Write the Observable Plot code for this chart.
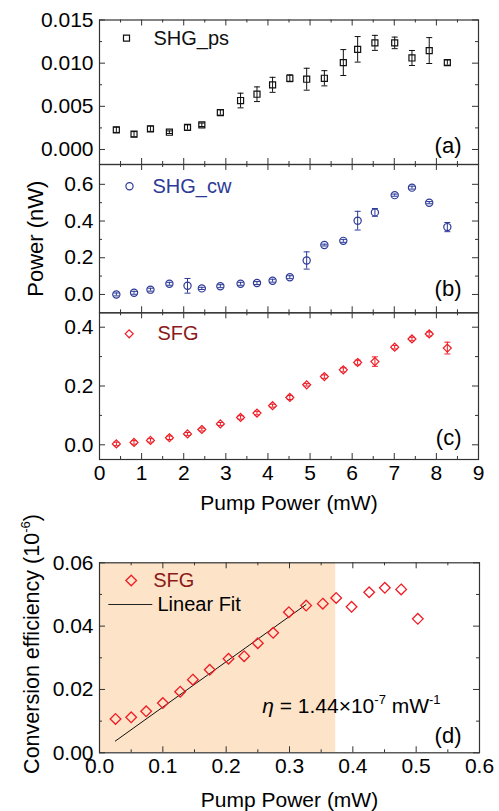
<!DOCTYPE html>
<html><head><meta charset="utf-8">
<script src="https://cdn.jsdelivr.net/npm/d3@7"></script>
<script src="https://cdn.jsdelivr.net/npm/@observablehq/plot@0.6"></script>
<style>
body{margin:0;background:#fff;}
#wrap{position:relative;width:499px;height:811px;overflow:hidden;}
#wrap svg{position:absolute;left:0;}
</style></head><body><div id="wrap"></div>
<script>
// ---- data ----
const pump = [0.40, 0.82, 1.21, 1.66, 2.09, 2.43, 2.87, 3.35, 3.74, 4.11, 4.52, 4.92, 5.34, 5.79, 6.13, 6.54, 7.01, 7.42, 7.83, 8.26];
const shgPs = [0.00228, 0.00177, 0.00240, 0.00200, 0.00255, 0.00286, 0.00428, 0.00567, 0.00640, 0.00749, 0.00825, 0.00814, 0.00825, 0.01007, 0.01160, 0.01235, 0.01235, 0.01060, 0.01146, 0.01007];
const shgPsErr = [0.0003, 0.0003, 0.0003, 0.00015, 0.0003, 0.0002, 0.0003, 0.00085, 0.00085, 0.00087, 0.0004, 0.00127, 0.00088, 0.0015, 0.00148, 0.00087, 0.00067, 0.00087, 0.0015, 0.0003];
const shgCw = [0.000, 0.009, 0.026, 0.058, 0.047, 0.033, 0.045, 0.058, 0.062, 0.075, 0.094, 0.185, 0.269, 0.292, 0.402, 0.447, 0.541, 0.582, 0.500, 0.367];
const shgCwErr = [0.008, 0.008, 0.008, 0.008, 0.040, 0.006, 0.008, 0.008, 0.008, 0.008, 0.008, 0.047, 0.005, 0.008, 0.051, 0.021, 0.006, 0.008, 0.006, 0.025];
const sfg = [0.003, 0.008, 0.015, 0.024, 0.037, 0.052, 0.071, 0.093, 0.108, 0.133, 0.161, 0.204, 0.232, 0.255, 0.280, 0.283, 0.332, 0.360, 0.377, 0.329];
const sfgErr = [0.006, 0.006, 0.006, 0.006, 0.005, 0.005, 0.005, 0.006, 0.006, 0.005, 0.007, 0.004, 0.006, 0.007, 0.008, 0.016, 0.006, 0.006, 0.007, 0.020];

const effPump = [0.0253, 0.050, 0.0737, 0.100, 0.1274, 0.1474, 0.174, 0.2037, 0.2284, 0.250, 0.2742, 0.299, 0.3263, 0.3526, 0.3737, 0.398, 0.4258, 0.4505, 0.4763, 0.5026];
const effVal = [0.0107, 0.0112, 0.0131, 0.0157, 0.0193, 0.0231, 0.0262, 0.0297, 0.0305, 0.0346, 0.0379, 0.0444, 0.0465, 0.0471, 0.0489, 0.0461, 0.0507, 0.0521, 0.0516, 0.0423];
const fitPump = [0.025, 0.326];
const fitVal = [0.0037, 0.0468];
const shadeRange = [0, 0.373];

const xTicksTop = [0,1,2,3,4,5,6,7,8,9];
const xMinorTop = [0.5,1.5,2.5,3.5,4.5,5.5,6.5,7.5,8.5];
const yTicksA = [0, 0.005, 0.010, 0.015], yMinorA = [0.0025, 0.0075, 0.0125];
const yTicksB = [0, 0.2, 0.4, 0.6], yMinorB = [0.1, 0.3, 0.5];
const yTicksC = [0, 0.2, 0.4], yMinorC = [0.1, 0.3];
const xTicksD = [0, 0.1, 0.2, 0.3, 0.4, 0.5, 0.6], xMinorD = [0.05, 0.15, 0.25, 0.35, 0.45, 0.55];
const yTicksD = [0, 0.02, 0.04, 0.06], yMinorD = [0.01, 0.03, 0.05];

// ---- styles ----
const FONT = '"Liberation Sans", Arial, Helvetica, sans-serif';
const AX = "#333";
const BLUE = "#2d3a97", RED = "#ee1c25", DARKRED = "#8b1a1a", SHADE = "#fde3c8";

const rows = (ys, es) => pump.map((x, i) => ({x, y: ys[i], e: es[i]}));
const capSym = {draw(ctx, size){ const r = Math.sqrt(size/Math.PI); ctx.moveTo(-r,0); ctx.lineTo(r,0); }};

function frameTicks(xMaj, xMin, yMaj, yMin, iw, ih) {
  const m = [];
  for (const [v, len] of [[xMaj, 6], [xMin, 3]]) {
    m.push(Plot.tickX(v, {x: d => d, insetTop: ih - len, stroke: AX}));
    m.push(Plot.tickX(v, {x: d => d, insetBottom: ih - len, stroke: AX}));
  }
  for (const [v, len] of [[yMaj, 6], [yMin, 3]]) {
    m.push(Plot.tickY(v, {y: d => d, insetRight: iw - len, stroke: AX}));
    m.push(Plot.tickY(v, {y: d => d, insetLeft: iw - len, stroke: AX}));
  }
  return m;
}
function errMarks(data, color, sym, r) {
  return [
    Plot.ruleX(data, {x: "x", y1: d => d.y - d.e, y2: d => d.y + d.e, stroke: color, strokeWidth: 1}),
    Plot.dot(data, {x: "x", y: d => d.y + d.e, symbol: capSym, r: 3, stroke: color, strokeWidth: 1}),
    Plot.dot(data, {x: "x", y: d => d.y - d.e, symbol: capSym, r: 3, stroke: color, strokeWidth: 1}),
    Plot.dot(data, {x: "x", y: "y", symbol: sym, r, stroke: color, fill: "none", strokeWidth: 1.2})
  ];
}

function place(svg, top) { svg.style.top = top + "px"; document.getElementById("wrap").appendChild(svg); return svg; }

function richText(svg, key, parts, fs) {
  d3.select(svg).selectAll("text").filter(function(){ return this.textContent === key; }).each(function(){
    const t = d3.select(this); t.text(null);
    let shift = 0;
    for (const p of parts) {
      const ts = t.append("tspan").text(p.t);
      const target = p.sup ? -0.42*fs : 0;
      if (target !== shift) { ts.attr("dy", target - shift); shift = target; }
      if (p.sup) ts.attr("font-size", Math.round(fs*0.62));
      if (p.it) ts.attr("font-style", "italic");
    }
  });
}

const W = 499, ML = 99, MR = 21;
const iwTop = W - ML - MR;
const baseStyle = {fontFamily: FONT, fontSize: "21px", color: "#000", background: "transparent", overflow: "visible"};

// ---- panel (a) ----
{
  const H = 165, mt = 19.5, mb = 1, ih = H - mt - mb;
  const d = rows(shgPs, shgPsErr);
  const svg = Plot.plot({
    width: W, height: H, marginLeft: ML, marginRight: MR, marginTop: mt, marginBottom: mb,
    x: {domain: [0, 9], axis: null}, y: {domain: [-0.00174, 0.015], axis: null},
    style: baseStyle,
    marks: [
      ...errMarks(d, "#111", "square", 3.4),
      Plot.frame({stroke: AX, strokeWidth: 1.2}),
      ...frameTicks(xTicksTop, xMinorTop, yTicksA, yMinorA, iwTop, ih),
      Plot.axisY({ticks: yTicksA, tickFormat: v => v.toFixed(3), tickSize: 0, tickPadding: 6, label: null}),
      Plot.dot([0], {frameAnchor: "top-left", dx: 27, dy: 18.2, symbol: "square", r: 3.4, stroke: "#111", strokeWidth: 1.2}),
      Plot.text(["SHG_ps"], {frameAnchor: "top-left", dx: 54, dy: 18.2, textAnchor: "start", lineAnchor: "middle", fontSize: 20, fill: "#111"}),
      Plot.text(["(a)"], {frameAnchor: "bottom-right", dx: -17, dy: -19, textAnchor: "end", lineAnchor: "middle", fontSize: 22})
    ]
  });
  place(svg, 0);
}
// ---- panel (b) ----
{
  const H = 151, mt = 1, mb = 1.7, ih = H - mt - mb;
  const d = rows(shgCw, shgCwErr);
  const svg = Plot.plot({
    width: W, height: H, marginLeft: ML, marginRight: MR, marginTop: mt, marginBottom: mb,
    x: {domain: [0, 9], axis: null}, y: {domain: [-0.1, 0.708], axis: null},
    style: baseStyle,
    marks: [
      ...errMarks(d, BLUE, "circle", 3.6),
      Plot.frame({stroke: AX, strokeWidth: 1.2}),
      ...frameTicks(xTicksTop, xMinorTop, yTicksB, yMinorB, iwTop, ih),
      Plot.axisY({ticks: yTicksB, tickFormat: v => v.toFixed(1), tickSize: 0, tickPadding: 6, label: null}),
      Plot.dot([0], {frameAnchor: "top-left", dx: 30, dy: 21.7, symbol: "circle", r: 3.6, stroke: BLUE, strokeWidth: 1.2}),
      Plot.text(["SHG_cw"], {frameAnchor: "top-left", dx: 53, dy: 21.7, textAnchor: "start", lineAnchor: "middle", fontSize: 20, fill: BLUE}),
      Plot.text(["(b)"], {frameAnchor: "bottom-right", dx: -17, dy: -24, textAnchor: "end", lineAnchor: "middle", fontSize: 22}),
      Plot.text(["Power (nW)"], {frameAnchor: "left", dx: -64, rotate: -90, textAnchor: "middle", lineAnchor: "middle", fontSize: 22})
    ]
  });
  place(svg, 163);
}
// ---- panel (c) ----
{
  const H = 200, mt = 1.3, mb = 52, ih = H - mt - mb;
  const d = rows(sfg, sfgErr);
  const svg = Plot.plot({
    width: W, height: H, marginLeft: ML, marginRight: MR, marginTop: mt, marginBottom: mb,
    x: {domain: [0, 9]}, y: {domain: [-0.05, 0.449]},
    style: baseStyle,
    marks: [
      ...errMarks(d, RED, "diamond2", 3.6),
      Plot.frame({stroke: AX, strokeWidth: 1.2}),
      ...frameTicks(xTicksTop, xMinorTop, yTicksC, yMinorC, iwTop, ih),
      Plot.axisY({ticks: yTicksC, tickFormat: v => v.toFixed(1), tickSize: 0, tickPadding: 6, label: null}),
      Plot.axisX({ticks: xTicksTop, tickFormat: v => String(v), tickSize: 0, tickPadding: 6, label: null}),
      Plot.dot([0], {frameAnchor: "top-left", dx: 29.7, dy: 21, symbol: "diamond2", r: 3.6, stroke: RED, strokeWidth: 1.2}),
      Plot.text(["SFG"], {frameAnchor: "top-left", dx: 58, dy: 21, textAnchor: "start", lineAnchor: "middle", fontSize: 20, fill: DARKRED}),
      Plot.text(["(c)"], {frameAnchor: "bottom-right", dx: -17, dy: -22, textAnchor: "end", lineAnchor: "middle", fontSize: 22}),
      Plot.text(["Pump Power (mW)"], {frameAnchor: "bottom", dy: 44, textAnchor: "middle", lineAnchor: "middle", fontSize: 21})
    ]
  });
  place(svg, 311);
}
// ---- panel (d) ----
{
  const H = 331, mt = 82.3, mb = 58.7, mr = 20, ih = H - mt - mb, iw = W - ML - mr;
  const d = effPump.map((x, i) => ({x, y: effVal[i]}));
  const fit = fitPump.map((x, i) => ({x, y: fitVal[i]}));
  const svg = Plot.plot({
    width: W, height: H, marginLeft: ML, marginRight: mr, marginTop: mt, marginBottom: mb,
    x: {domain: [0, 0.6]}, y: {domain: [0, 0.06]},
    style: baseStyle,
    marks: [
      Plot.rect([{x1: shadeRange[0], x2: shadeRange[1], y1: 0, y2: 0.06}], {x1: "x1", x2: "x2", y1: "y1", y2: "y2", fill: SHADE}),
      Plot.line(fit, {x: "x", y: "y", stroke: "#111", strokeWidth: 1}),
      Plot.dot(d, {x: "x", y: "y", symbol: "diamond2", r: 4.8, stroke: RED, fill: "none", strokeWidth: 1.3}),
      Plot.frame({stroke: AX, strokeWidth: 1.2}),
      ...frameTicks(xTicksD, xMinorD, yTicksD, yMinorD, iw, ih),
      Plot.axisY({ticks: yTicksD, tickFormat: v => v.toFixed(2), tickSize: 0, tickPadding: 6, label: null}),
      Plot.axisX({ticks: xTicksD, tickFormat: v => v.toFixed(1), tickSize: 0, tickPadding: 5, label: null}),
      Plot.dot([0], {frameAnchor: "top-left", dx: 31.7, dy: 17.7, symbol: "diamond2", r: 4.8, stroke: RED, strokeWidth: 1.3}),
      Plot.text(["SFG"], {frameAnchor: "top-left", dx: 53.7, dy: 17.7, textAnchor: "start", lineAnchor: "middle", fontSize: 20, fill: DARKRED}),
      Plot.dot([0], {frameAnchor: "top-left", dx: 30.8, dy: 41.7, symbol: capSym, r: 22, stroke: "#222", strokeWidth: 1}),
      Plot.text(["Linear Fit"], {frameAnchor: "top-left", dx: 58, dy: 41.7, textAnchor: "start", lineAnchor: "middle", fontSize: 20}),
      Plot.text(["η = 1.44×10-7 mW-1"], {frameAnchor: "bottom-left", dx: 162.7, dy: -46.6, textAnchor: "start", lineAnchor: "middle", fontSize: 21}),
      Plot.text(["(d)"], {frameAnchor: "bottom-right", dx: -18, dy: -17.3, textAnchor: "end", lineAnchor: "middle", fontSize: 22}),
      Plot.text(["Pump Power (mW)"], {frameAnchor: "bottom", dy: 47, textAnchor: "middle", lineAnchor: "middle", fontSize: 21}),
      Plot.text(["Conversion efficiency (10-6)"], {frameAnchor: "left", dx: -67, dy: -13.8, rotate: -90, textAnchor: "middle", lineAnchor: "middle", fontSize: 21.5})
    ]
  });
  richText(svg, "η = 1.44×10-7 mW-1", [{t: "η", it: true}, {t: " = 1.44×10"}, {t: "-7", sup: true}, {t: " mW"}, {t: "-1", sup: true}], 21);
  richText(svg, "Conversion efficiency (10-6)", [{t: "Conversion efficiency (10"}, {t: "-6", sup: true}, {t: ")"}], 21.5);
  place(svg, 480);
}
</script></body></html>
